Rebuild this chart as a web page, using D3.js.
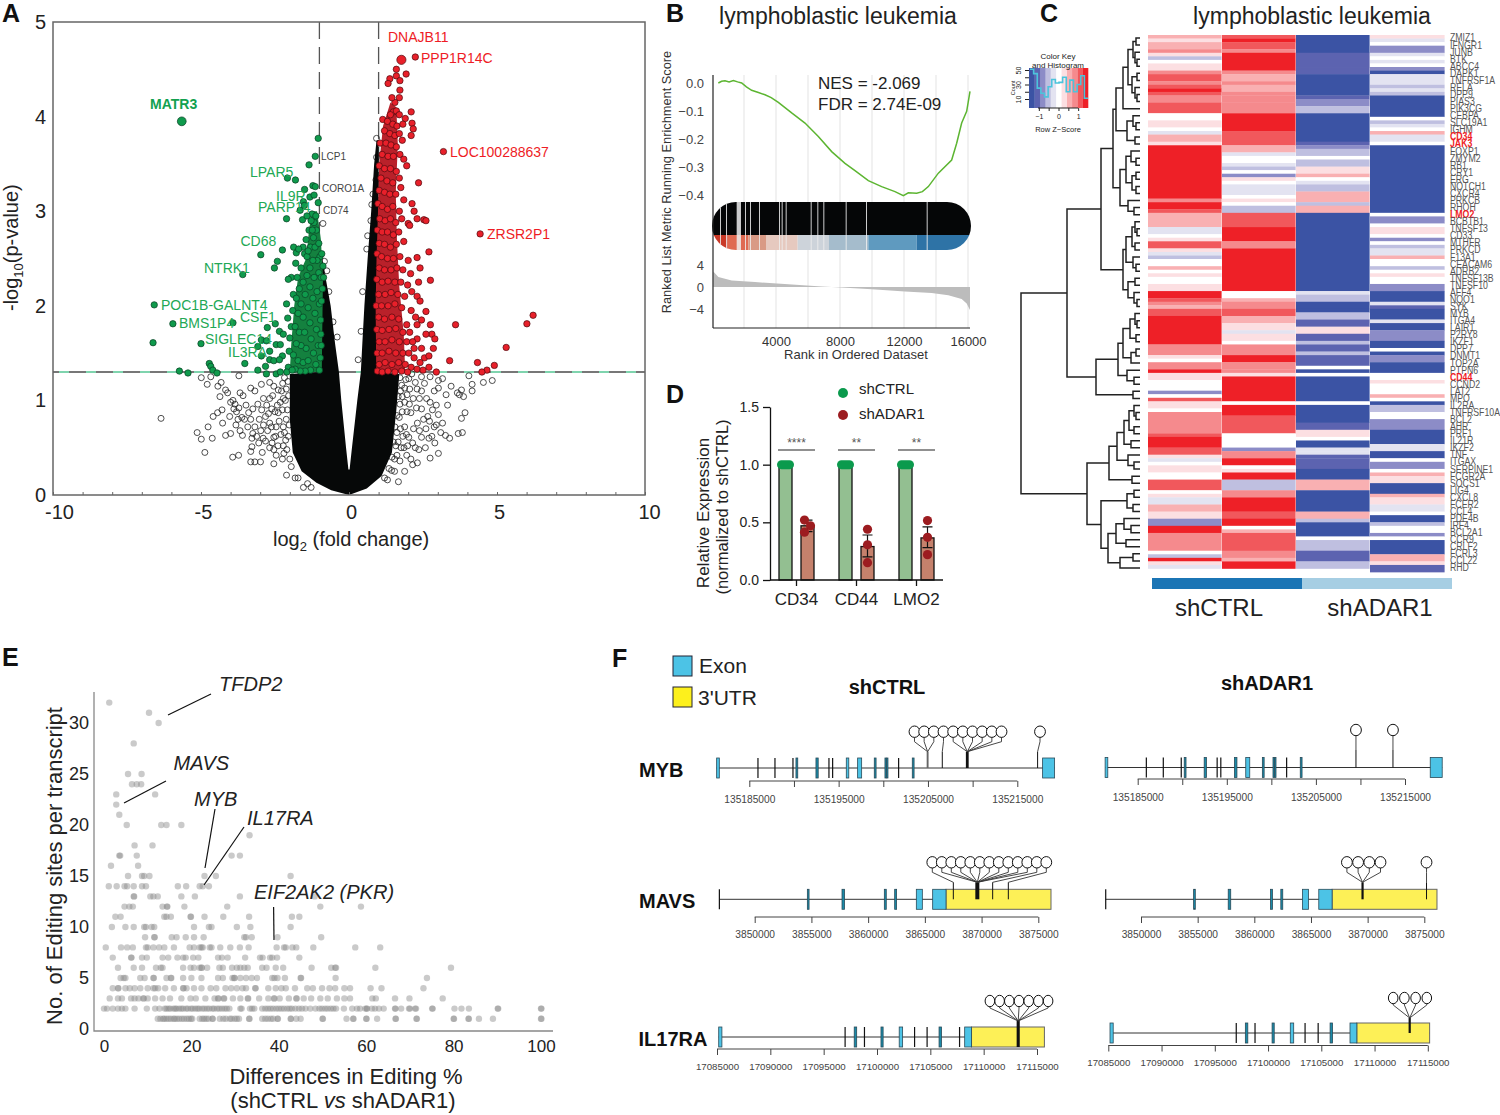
<!DOCTYPE html>
<html><head><meta charset="utf-8">
<script src="https://cdnjs.cloudflare.com/ajax/libs/d3/7.8.5/d3.min.js"></script>
<style>body{margin:0;background:#fff}svg{display:block;font-family:"Liberation Sans",Arial,sans-serif}</style>
</head><body><script>
/* ---------- PANEL A : volcano ---------- */
const volcanoTicksX=[-10,-5,0,5,10], volcanoTicksY=[0,1,2,3,4,5];
const blackCloud=[[0,0],[-.6,.05],[-1.1,.13],[-1.6,.25],[-1.9,.45],[-2,.8],[-2,1.28],[-1,1.3],[-1,2.2],[-.97,2.5],[-1,2.7],[-.85,2.4],[-.62,2],[-.47,1.6],[-.34,1.3],[-.26,1],[-.1,.5],[-.02,.27],[.02,.27],[.1,.5],[.28,1],[.4,1.3],[.45,1.6],[.52,2],[.63,2.5],[.75,3],[.85,3.5],[.93,3.75],[1,3.75],[1,1.3],[1.7,1.28],[1.6,.9],[1.45,.45],[1.1,.2],[.6,.07]];
const greenCloud=[[-2,1.3],[-1.95,1.6],[-1.85,2],[-1.72,2.3],[-1.45,2.5],[-1.35,2.8],[-1.25,3],[-1.08,3],[-.95,2.7],[-.88,2.3],[-.92,1.3]];
const redCloud=[[.92,1.3],[.9,2],[.93,2.5],[.98,3],[1.02,3.5],[1.15,3.9],[1.4,4.15],[1.6,4.1],[1.65,3.7],[1.58,3.2],[1.62,2.7],[1.7,2.2],[1.85,1.7],[1.9,1.3]];
const openPts=[[-6.35,.81],[-5.13,.66],[-4.99,.59],[-4.87,.45],[-4.76,.72],[-4.62,.6],[-4.59,.83],[-4.44,.87],[-4.29,.9],[-4.27,.76],[-4.17,.63],[-4,.65],[-3.93,.4],[-3.73,.42],[-4.03,.83],[-3.89,.91],[-4.99,1.24],[-4.79,1.17],[-4.67,1.25],[-4.43,1.15],[-4.32,1.19],[-4.17,1.11],[-4.36,1.04],[-4.1,1.08],[-3.72,1.26],[-4,.98],[-3.85,.96],[-3.68,1.08],[-3.58,1.05],[-3.32,1.13],[-3.18,1.1],[-2.96,1.17],[-2.68,1.19],[-2.89,1.02],[-2.54,1.15],[-2.39,1.11],[-3.32,.35],[-3.18,.35],[-2.99,.35],[-2.54,.33],[-3.32,.46],[-2.93,.45],[-3.28,.51],[-3.53,.8],[-3.39,.87],[-3.25,.91],[-3.08,.96],[-3.03,.8],[-2.89,.74],[-3.18,.72],[-3.25,.65],[-3.68,.68],[-3.6,.63],[-3.82,.74],[-3.75,.8],[-2.68,1.02],[-2.61,.91],[-2.82,.57],[-2.68,.5],[-2.54,.48],[-2.46,.72],[-2.39,.87],[-2.32,.98],[-2.82,.83],[-2.68,.76],[-2.54,.61],[-2.46,.42],[-2.11,.21],[-1.82,.18],[-1.54,.08],
[-3.92,1],[-3.8,.88],[-3.72,.92],[-3.62,.82],[-3.48,.95],[-3.42,.72],[-3.32,.8],[-3.28,.6],[-3.12,.62],[-3.05,.55],[-2.98,.68],[-2.95,.9],[-2.9,.6],[-2.78,.95],[-2.75,.68],[-2.72,.86],[-2.62,.72],[-2.6,.55],[-2.58,1.05],[-2.5,.88],[-2.48,.62],[-2.42,.95],[-2.4,.52],[-2.36,.78],[-2.3,.64],[-2.28,1.1],[-2.25,.9],[-2.25,.38],[-2.22,.72],[-2.22,.52],
[-2.18,1.24],[-2.12,1.12],[-2.15,1],[-2.08,.9],[-2.12,.8],[-2.18,.66],[-2.05,.62],[-2.1,.48],[-2,.38],[-1.95,.3],[-2.06,1.2],[-2.04,1.05],[-2.2,.44],[-2.02,.74],[-1.72,.18],[-1.4,.12],[-1.28,.08],[-2.14,.58],[-2.22,1.02],[-2.24,1.18],
[-.88,2.87],[-.83,2.47],[-.75,2.37],[-.68,2.15],[-.54,1.83],[-.4,1.67],[.93,3.77],[.93,3.57],[.91,3.33],[.81,3.18],[.77,3.07],[.74,2.9],[.63,2.74],[.6,2.6],[.46,2.15],[.41,1.73],[.31,1.43],
[2.45,1.25],[2.74,1.25],[3.02,1.21],[3.16,1.23],[4.05,1.26],[4.16,1.17],[4.54,1.19],[4.84,1.21],[3.02,1.13],[3.28,1.06],[3.45,1.15],[3.66,1.08],[3.8,1.11],[3.73,1.06],[3.87,1.04],[4.16,1.1],[3.33,.95],[3.02,.85],[3.16,.76],[2.95,.74],[3.92,.87],[3.8,.81],[3.69,.65],[3.83,.66],[3.26,.63],[3.4,.6],[3.02,.44],[2.74,.39],[2.31,.34],[1.67,.14],[1.88,.25],[2.09,.38],[2.45,1.1],[2.74,.98],[2.88,1.1],[2.24,1.19],[2.02,1.23],[1.88,1.13],[2.17,1.02],[2.45,.91],[2.66,.83],[2.88,.72],[2.31,.76],[2.09,.87],[2.45,.61],[2.24,.5],[2.02,.61],[1.88,.72],[1.88,.98],[1.74,1.1],
[2.12,1.28],[2.3,1.12],[2.55,1.18],[2.62,1.02],[2.38,1.02],[2.28,.92],[2.52,.8],[2.18,.7],[2.38,.68],[2.6,.7],[2.7,.6],[2.58,.5],[2.36,.48],[2.15,.55],[2.95,.95],[2.82,.9],[2.72,.78],[2.15,.32],[1.95,.42],[1.98,.52],[2.8,.62],[2.9,.55],[3.1,.66],
[1.72,1.24],[1.78,1.16],[1.92,1.22],[1.66,1.04],[1.72,.96],[1.8,1.04],[1.96,1.06],[2.05,1.12],[1.62,.84],[1.7,.82],[1.8,.88],[1.96,.88],[2.04,.96],[1.55,.72],[1.62,.66],[1.74,.7],[1.82,.62],[1.94,.64],[1.5,.56],[1.58,.52],[1.66,.56],[1.76,.5],[1.86,.5],[1.45,.4],[1.54,.38],[1.62,.42],[1.72,.36],[1.35,.28],[1.44,.26],[1.54,.25],[1.2,.18],[1.3,.16]];
const matr3=[[-5.65,3.95]];
const greenPts=[[-6.58,2.01],[-5.95,1.81],[-6.62,1.61],[-5,1.6],[-5.73,1.31],[-5.44,1.29],[-4.72,1.39],[-4.67,1.36],[-4.6,1.32],[-4.46,1.29],[-3.92,1.82],[-3.52,1.39],[-3.59,2.33],[-2.98,2.54],[-2.52,2.4],[-2.42,2.47],[-2.25,2.59],[-1.87,2.62],[-1.78,2.56],[-2.11,2.92],[-2.08,3.35],[-1.81,3.33],[-1.35,3.49],[-1.14,3.58],[-1.04,3.77],[-1.22,3.27],[-1.14,3.26],[-1.5,3.23],[-1.32,3.15],[-1.18,3.17],[-1.54,3.1],[-1.65,3.01],[-1.51,3.06],[-1.04,3.09],[-1.57,2.91],[-1.25,2.97],[-1.18,2.88],[-2.96,1.64],[-2.79,1.63],[-3.08,1.57],[-2.68,1.52],[-2.96,1.47],[-3.08,1.32],[-2.82,1.36],[-2.79,1.28],[-2.46,1.28],[-2.32,1.3],[-2.68,1.43],[-2.54,1.42],[-2.76,1.77],[-2.49,1.81],[-2.35,1.73],[-2.22,1.7],[-2.46,1.59],[-2.32,1.59],[-2.25,1.47],[-2.35,1.43],[-2.07,1.87],[-2.11,2.02],
[-2.05,1.35],[-2.02,1.52],[-2.1,1.3],[-2,1.66],[-1.95,1.78],[-1.9,1.95],[-1.88,2.12],[-1.95,2.3],[-2.05,2.28],[-1.75,2.3],[-1.8,2.45],[-1.62,2.4],[-1.5,2.55],[-1.45,2.7],[-1.55,2.62],[-1.35,2.8],[-1.42,2.52],[-1.3,2.62],[-1.2,2.72],[-1.1,2.8],[-1.28,2.9],[-1.15,2.62],[-1.02,2.66],[-.98,2.52],[-1.08,2.48],[-1.22,2.48],[-1.32,2.4],[-1.42,2.32],[-1.55,2.25],[-1.68,2.18],[-1.78,2.08],[-1.62,2.02],[-1.48,2.12],[-1.32,2.2],[-1.18,2.3],[-1.02,2.35],[-.94,2.3],[-1.08,2.15],[-1.22,2.08],[-1.38,1.98],[-1.55,1.88],[-1.72,1.92],[-1.82,1.78],[-1.68,1.72],[-1.5,1.72],[-1.32,1.82],[-1.15,1.92],[-1,2.02],[-.96,1.85],[-1.1,1.75],[-1.28,1.65],[-1.45,1.55],[-1.62,1.58],[-1.78,1.6],[-1.88,1.48],[-1.72,1.42],[-1.55,1.4],[-1.38,1.42],[-1.2,1.5],[-1.04,1.58],[-.97,1.45],[-1.12,1.38],[-1.3,1.32],[-1.48,1.31],[-1.65,1.31],[-1.82,1.33],[-1,1.32],[-1.92,1.32],[-1.7,2.6],[-1.38,2.58],[-1.24,2.8],[-1.12,2.95],[-1.42,2.95],[-.88,2.42],[-.86,2.3],[-.9,2.18],[-.92,2.55],[-.93,2.05],[-.95,1.7],[-.94,1.58]];
const redBig=[[1.77,4.6]];
const redPts=[[2.24,4.63],[3.19,3.63],[4.43,2.76],[6.22,1.9],[6.01,1.81],[5.31,1.56],[3.6,1.8],[4.91,1.37],[4.34,1.4],[4.66,1.32],[4.49,1.3],[3.4,1.42],[1.6,4.5],[1.6,4.43],[1.93,4.45],[1.38,4.4],[1.72,4.38],[1.32,4.35],[1.72,4.28],[1.7,4.2],[1.55,4.15],[1.45,4.2],[1.5,4.05],[1.4,4.02],[1.6,4.06],[1.7,4.02],[1.9,3.98],[2.1,4.05],[2.13,3.93],[2.17,3.87],[2.1,3.8],[1.8,3.75],[1.14,3.97],[1.3,3.95],[1.48,3.92],[1.62,3.9],[1.82,3.92],[1.2,3.85],[1.38,3.82],[1.55,3.8],[1.7,3.82],[1.05,3.72],[1.25,3.72],[1.42,3.7],[1.6,3.68],[1.12,3.6],[1.32,3.58],[1.5,3.58],[1.72,3.6],[1.85,3.55],[1.02,3.48],[1.2,3.45],[1.4,3.45],[1.6,3.42],[1.95,3.48],[1.08,3.35],[1.28,3.32],[1.48,3.3],[1.7,3.35],[2.35,3.3],[1.75,3.25],[1.02,3.22],[1.2,3.2],[1.38,3.18],[1.58,3.18],[1.85,3.12],[2.13,3.08],[2.2,3],[2.3,2.92],[2.53,2.91],[2.6,2.9],[2,2.87],[2.05,2.85],[.98,3.08],[1.12,3.05],[1.3,3.02],[1.48,3.05],[1.7,3],[1.04,2.92],[1.22,2.9],[1.4,2.92],[1.58,2.88],[1.78,2.92],[.96,2.8],[1.12,2.78],[1.3,2.78],[1.5,2.75],[1.68,2.78],[1.02,2.66],[1.2,2.65],[1.4,2.62],[1.6,2.65],[1.85,2.68],[2.7,2.57],[2.3,2.51],[2.4,2.4],[2.75,2.27],[2.35,2.25],[2,2.48],[1.72,2.52],[.95,2.55],[1.1,2.52],[1.3,2.5],[1.5,2.5],[1.02,2.4],[1.2,2.38],[1.42,2.38],[1.62,2.4],[1.82,2.38],[2.08,2.34],[.94,2.28],[1.12,2.25],[1.32,2.26],[1.55,2.25],[1.75,2.25],[1.98,2.22],[1,2.12],[1.22,2.12],[1.42,2.14],[1.65,2.12],[1.88,2.1],[2.12,2.15],[2.3,2.1],[2.4,2.05],[.92,2],[1.1,2],[1.32,2],[1.55,2.02],[1.78,1.98],[2.1,1.95],[2.6,1.94],[1,1.88],[1.2,1.86],[1.45,1.88],[1.68,1.86],[1.95,1.8],[2.25,1.88],[2.45,1.85],[2.3,1.8],[.94,1.75],[1.12,1.74],[1.35,1.75],[1.58,1.76],[1.82,1.72],[2.05,1.72],[2.75,1.8],[2.8,1.7],[2.6,1.7],[2.9,1.65],[2.3,1.65],[1.02,1.62],[1.22,1.62],[1.45,1.64],[1.7,1.62],[1.95,1.62],[2.15,1.62],[.95,1.5],[1.12,1.5],[1.35,1.52],[1.58,1.5],[1.82,1.5],[2.02,1.5],[2.2,1.55],[2.45,1.55],[2.85,1.55],[2.55,1.45],[2.7,1.47],[2.2,1.45],[2.4,1.4],[1.02,1.38],[1.22,1.4],[1.45,1.38],[1.68,1.4],[1.9,1.38],[2.1,1.35],[2.3,1.33],[2.5,1.32],[2.7,1.35],[2.95,1.3],[.96,1.31],[1.12,1.3],[1.32,1.31],[1.55,1.3],[1.78,1.31],[1.98,1.3]];
const aLabels=[["MATR3",150,108.5,"#12a150",1],["DNAJB11",388,42,"#ee1c25"],["PPP1R14C",421,63,"#ee1c25"],["LOC100288637",450,156.5,"#ee1c25"],["ZRSR2P1",487,239,"#ee1c25"],["LPAR5",250,177,"#22a855"],["IL9R",276,201,"#22a855"],["PARP14",258,212,"#22a855"],["CD68",240.5,246,"#22a855"],["NTRK1",204,273,"#22a855"],["POC1B-GALNT4",161,310,"#22a855"],["BMS1P4",179,328,"#22a855"],["CSF1",240,322,"#22a855"],["SIGLEC14",205,343.5,"#22a855"],["IL3RA",228,357,"#22a855"]];
const aSmallLabels=[["LCP1",321,160],["CORO1A",322,192],["CD74",323,214]];

/* ---------- PANEL B : GSEA ---------- */
const esRank=[396,600,812,1070,1333,1600,1854,2150,2479,2900,3312,3700,4146,4979,5812,6646,7479,8312,8937,9771,10604,11437,11958,12271,12792,13150,13521,14146,14979,15292,15604,15917,16125];
const esValue=[0,.006,.008,.004,.009,.004,0,-.014,-.026,-.034,-.042,-.052,-.069,-.107,-.143,-.191,-.245,-.287,-.313,-.349,-.37,-.388,-.402,-.392,-.394,-.388,-.37,-.322,-.275,-.215,-.143,-.101,-.03];
const metricRank=[83,396,1229,2687,4771,6854,8104,9979,12062,13729,14771,15604,15917,16125];
const metricValue=[2.8,1.8,1.2,.9,.5,.1,-.1,-.4,-.8,-1.1,-1.5,-2.2,-3,-4.2];
const hitGaps=[[500,1],[875,2],[1541,271],[2062,1],[2375,1],[2937,1],[4187,1],[4354,1],[4604,2],[6167,1],[6583,1],[6958,2],[8354,1],[9625,2],[13417,2]];
const stripEnds=[979,2271,3375,5354,7312,9771,12792,16200];
const stripColours=["#c93a28","#df6a52","#d99a85","#e6c9bf","#cdd3da","#a5bccc","#5f9abf","#2e73a6"];
const esTicks=[0,-.1,-.2,-.3,-.4], metricTicks=[4,0,-4], rankTicks=[4000,8000,12000,16000];
const rankGrid=[2000,4000,6000,8000,10000,12000,14000,16000];

/* ---------- PANEL C : heatmap (runs of [rows, level]) ---------- */
const heatLeft=[[1,2],[1,1],[2,2],[1,3],[1,1],[1,-2],[1,0],[2,1],[1,3],[2,4],[1,3],[1,4],[1,5],[1,4],[2,3],[3,4],[2,0],[2,1],[1,0],[1,-1],[2,2],[1,1],[15,5],[1,3],[2,5],[1,4],[4,2],[2,-1],[1,0],[1,1],[2,4],[1,1],[1,-1],[1,-2],[2,0],[1,2],[1,0],[1,1],[2,0],[2,1],[2,5],[1,4],[1,3],[1,2],[2,4],[8,5],[3,3],[1,1],[1,0],[2,3],[1,5],[2,1],[3,0],[1,-3],[1,0],[1,4],[2,1],[1,0],[6,3],[1,4],[3,5],[2,4],[1,1],[1,-1],[1,0],[2,1],[2,0],[3,4],[1,0],[1,1],[2,-1],[2,2],[2,1],[2,-3],[2,5],[5,3],[1,0],[1,-2],[1,5],[1,1],[1,-1]];
const heatMidL=[[1,4],[1,5],[2,4],[1,3],[5,5],[1,3],[2,2],[1,3],[2,2],[1,3],[2,3],[3,3],[5,5],[4,4],[2,2],[1,-1],[2,0],[1,-1],[1,-2],[1,0],[1,-3],[1,1],[1,0],[3,-1],[1,0],[1,1],[1,0],[2,-2],[4,4],[4,5],[2,3],[12,5],[2,0],[1,2],[2,3],[2,4],[2,2],[2,1],[1,-1],[2,1],[1,0],[3,3],[2,5],[2,3],[1,3],[1,1],[7,5],[1,0],[3,5],[5,4],[4,0],[1,-3],[2,3],[2,5],[1,0],[1,1],[2,5],[3,-2],[2,3],[4,5],[2,4],[2,5],[1,0],[1,2],[5,4],[2,3],[1,2],[2,5]];
const heatMidR=[[5,-5],[4,-4],[2,-4],[6,-5],[1,-4],[2,-3],[2,-2],[8,-5],[1,-4],[1,-3],[2,-2],[1,0],[2,-2],[2,1],[1,2],[1,0],[1,-1],[2,-2],[3,2],[1,-2],[2,2],[22,-5],[1,-1],[2,-2],[2,-5],[1,-5],[2,-2],[2,-4],[2,1],[2,-4],[1,-2],[2,-4],[1,-2],[3,-4],[1,0],[1,-5],[1,0],[7,-5],[1,0],[5,-5],[2,-4],[2,1],[1,0],[2,-5],[1,-1],[1,-1],[1,-4],[3,-4],[3,-5],[3,2],[6,-5],[2,2],[1,-2],[4,-5],[1,0],[3,-2],[3,-4],[2,-2]];
const heatRight=[[1,1],[1,-1],[1,0],[2,-3],[1,-1],[1,0],[1,-1],[1,0],[1,-3],[1,-5],[3,-1],[1,-2],[1,-1],[1,-2],[6,-5],[1,0],[1,-2],[1,-1],[1,0],[1,2],[2,-1],[1,0],[19,-5],[1,0],[1,-3],[1,-3],[1,0],[2,1],[1,0],[1,-3],[1,0],[1,-2],[1,-1],[1,-1],[1,2],[2,0],[1,-2],[1,0],[1,1],[2,0],[2,-3],[3,-5],[1,-1],[1,-4],[3,-5],[1,-1],[2,-5],[3,-3],[2,-5],[1,0],[1,-5],[2,-3],[3,-5],[2,0],[1,1],[3,0],[1,2],[1,0],[1,-5],[2,-2],[2,0],[3,-3],[4,-5],[2,-1],[2,-5],[1,0],[2,-3],[1,0],[1,2],[2,1],[3,-5],[1,2],[2,1],[2,-1],[1,0],[2,-5],[1,-2],[2,0],[1,-3],[1,0],[4,-5],[2,2],[1,1],[2,-4]];
const heatLevels=[5,4,3,2,1,0,-1,-2,-3,-4,-5];
const heatPalette=["#ee2027","#f1585c","#f58a8d","#f9b0b2","#fcdfe2","#ffffff","#e3e3f1","#bfbfe0","#8c8cc7","#5c63b0","#3b53a4"];
const geneRows=["ZMIZ1","IFNGR1","JUNB","BTK","ABCC4","DAPK1","TNFRSF1A","RELA","DPP9","PIAS3","PIK3CG","CEBPA","SLC19A1","IGHM","CD34","JAK3","FOXP1","ZMYM2","RB1","CRY1","ERG","NOTCH1","CXCR4","PRKCB","RHOH","LMO2","BCBTB1","TNFSF13","CD33","MTHFR","PRKCD","F13A1","CEACAM6","ADRB2","TNFSF13B","TNFSF10","AFF4","NQO1","SYK","MYB","ITGA4","LAIR1","P2RY8","IKZF1","DPP7","DNMT1","TOP2A","PTPN6","CD44","CCND2","LAT2","MPO","IL2RA","TNFRSF10A","BCL2","AHR","PRF1","IL21R","IKZF2","TNF","ITGAX","SERPINE1","FCGR2A","SOCS1","LIG4","CXCL8","FCER2","CCL4","PDE4B","IRF4","BCL2A1","CCR9","CRLF2","FCRL3","CCL22","RHD"];
const redGenes=["CD34","JAK3","LMO2","CD44"];
const keyCounts=[51,45,25,18,13,27,37,32,33,40,20,36,20,30,42,11];
/* dendrogram: [height, child, child]; 0 = leaf */
const dA=[24,[17,[12,[7,[4,0,0],[5,0,[3,0,0]]],[8,[3,0,0],[5,0,[3,0,0]]]],0],[13,[7,0,[4,0,0]],[5,0,0]]];
const dB=[20,[14,[9,0,[4,0,0]],[8,[4,0,0],[4,0,0]]],[12,0,[6,0,0]]];
const dC=[17,[14,[8,[5,0,[3,0,0]],[5,0,0]],[7,0,[4,0,0]]],[12,[5,0,0],[6,0,[3,0,0]]]];
const dD=[44,[22,[17,[10,[5,0,[3,0,0]],[4,0,0]],[9,[4,0,0],0]],[13,0,[6,0,0]]],[7,0,0]];
const dE1=[31,[23,[16,[11,[6,0,[4,0,0]],[6,0,0]],[9,0,0]],[12,0,[6,0,0]]],[8,0,0]];
const dE2=[39,[13,[6,0,0],[7,0,0]],[32,[24,[16,0,[9,0,0]],[14,0,0]],[20,[7,0,0],0]]];
const dendro=[119,[73,[39,[27,dA,dB],dC],dD],[53,dE1,dE2]];

/* ---------- PANEL D : bars ---------- */
const qpcrGenes=["CD34","CD44","LMO2"];
const ctrlMeans=[1,1,1];
const adarMeans=[.47,.29,.365];
const adarErrLow=[.42,.2,.28], adarErrHigh=[.52,.39,.46];
const adarReps=[[.52,.47,.415],[.44,.305,.15],[.515,.37,.22]];
const sigStars=["****","**","**"];

/* ---------- PANEL E : editing scatter ([sites,[diff %...]]) ---------- */
const editingRows=[[32,[1.2]],[31,[10.3]],[30,[12.5]],[28,[6.8]],[25,[5.5,8.6]],[24,[6.4,7.5,8.5]],[23,[2.8,11.7]],[22,[2.8]],[21,[3.5]],[20,[5.2,13.1,14.3,17.7]],[19,[33.3]],[18,[7,11.1]],[17,[3.5,3.7,7.5,29.2,31.1]],[16,[1.6,7.8]],[15,[5.5,8.7,9.2,10.4,23,25.6,42.7]],[14,[1.1,2.9,4.7,5.3,6.8,8.7,9.6,16.9,18.8,21.9,22.6,24]],[13,[6.8,6.9,10.6,11.3,12.3,17.7,20.8,31.1,48.2]],[12,[4.7,5.8,6.6,13.4,14.4,14.5,18.4,28.2,49.5,58.8]],[11,[2.6,3.8,13.8,14.3,15.3,19.8,19.9,23,27.3,33.2,43,44.7]],[10,[1.8,4.9,6.8,9.2,9.6,10.9,11.5,20.6,24,24.6,30.4,33.5,42.7]],[9,[9.4,11.5,11.6,15.5,16.6,18.7,20.6,22.8,32.1,32.5,33.8,39.7,49.7]],[8,[.4,3.9,5.3,6.6,9.6,10,11.3,12.6,13.8,16,19.6,20.6,21.9,22.3,22.6,24.2,24.6,26.6,28.9,31.1,33.1,39.5,41.2,41.6,43.1,44,47.9,57.5,63.2]],[7,[2,6.2,6.3,8.7,9.8,13.4,14.7,16.8,18.1,18.7,20.4,21.6,26.1,27,28.3,32.3,35.7,36.3,38,38.5,39.6,44.7]],[6,[3.2,6.8,8.7,11.9,13,13.4,18.1,19.8,20.6,21.9,22.3,22.4,23.6,26.4,27.2,29.3,30.4,31.2,32.1,32.9,36.2,37.2,39.3,41,47.5,52,52.9,53.1,62.1,79.4]],[5,[3.8,4.5,4.9,8.3,9.3,11.3,11.4,14.3,15.3,15.4,18.1,20,22.3,26.1,27.2,29.4,29.8,29.9,31.2,32.5,33.8,35,38.5,39,39.7,41.4,45,45.1,53,73.9]],[4,[2,3.2,3.3,4.9,5.9,7,8.3,10,11.3,11.7,12.4,14,16,18.1,18.2,18.9,20.6,22.3,24.4,25.7,27.8,29.1,30.4,31.7,32.5,34.6,34.7,37.6,39.3,40.6,41.6,43.7,46.5,47.8,49.9,51.6,52.9,55,56.3,61,63.5,73.1]],[3,[1.3,3.2,4.1,6.2,7,7.9,9,9.1,10,11.7,13.4,15.1,17.7,19.8,21,23.2,25.3,26.1,26.2,27.4,27.5,29.5,31.2,32.9,33,35.5,37.6,38.9,39,40.2,42.3,44,44.1,45.7,47.4,49.5,51.2,53.3,55,56.3,61.4,62.2,66.6,69.9,77.5]],[2,[0,.7,2,3.2,4.1,4.9,7,9.8,11.7,12.7,13.9,14.3,14.8,15.2,15.9,16.3,16.6,17.2,17.7,18.1,18.8,19.2,19.9,20.3,20.9,21.4,21.8,22.5,23,23.6,24.1,24.8,25.2,25.9,26.4,27,27.6,28.1,28.7,31.2,31.5,33.4,33.9,34.4,36.2,36.9,37.5,38.1,38.7,39.4,40,40.6,41.2,41.9,42.5,43,43.8,44.6,45.3,46.1,47.2,48.4,49.3,49.9,50.6,51.2,51.9,52.5,53.1,54.9,56.8,57.9,58.6,59.8,60.1,60.2,61.3,62,62.9,64,66.6,66.7,68,69.8,70,71.2,71.4,75.1,75.2,80.2,81.8,83.5,90.1,90.2,100,100.1]],[1,[12.3,12.9,13.5,13.8,14.3,14.8,15.3,15.9,16.2,16.7,17.2,17.8,18.3,18.9,19.4,19.9,20.2,21.9,22.5,22.9,23.4,23.9,24.8,24.9,26.5,27.3,27.9,28.8,29.2,29.9,30.4,30.9,33.2,33.3,36.2,36.9,37.5,38.2,38.7,39.7,39.8,42.7,42.8,44,45,50,50.1,55.5,57,57.1,60,60.1,62.5,66.7,66.8,71.5,71.6,80,80.1,83.4,83.5,85.8,89,100,100.1]]];
const editX=[0,20,40,60,80,100], editY=[0,5,10,15,20,25,30];

/* ---------- PANEL F : gene tracks ---------- */
const mybExons=[[135181344,300],[135185970,0],[135187873,0],[135189888,0],[135190223,200],[135192462,250],[135193917,0],[135194328,0],[135195857,280],[135197126,450],[135198991,200],[135200185,150],[135200372,150],[135201715,0],[135203245,200],[135217833,1343]];
const mavsExons=[[3846886,0],[3854642,150],[3857697,220],[3861428,170],[3862339,170],[3864248,530],[3865688,1176]];
const il17Exons=[[17085160,300],[17097010,0],[17097865,230],[17098825,0],[17100373,200],[17102082,320],[17103523,0],[17104697,0],[17105818,230],[17107740,0],[17108220,641]];
const il17AdarExons=[[17085160,300],[17097015,0],[17097869,230],[17098777,0],[17100379,200],[17102088,320],[17103476,0],[17104705,0],[17105826,230],[17107695,641]];
const mavsUtr=[3866864,3876119], il17Utr=[17108861,17115694], il17AdarUtr=[17108336,17115171];
const mybTicks=[135185000,135190000,135195000,135200000,135205000,135210000,135215000];
const mavsTicks=[3850000,3855000,3860000,3865000,3870000,3875000];
const il17Ticks=[17085000,17090000,17095000,17100000,17105000,17110000,17115000];
const mybCtrlSites=[135204961,135204961,135204961,135206603,135209400,135209400,135209400,135209400,135209400,135209400];
const mybCtrlLone=[135217273];
const mybAdarLone=[135209497,135213648];
const mavsCtrlSites=[3867510,3869625,3869625,3869625,3869625,3869625,3869625,3869625,3869625,3869625,3869625,3870977,3872358];
const mavsAdarSites=[3869551,3869551,3869551,3869551];
const mavsAdarLone=[3875196];
const il17CtrlSites=[17113238,17113238,17113238,17113238,17113238,17113238,17113238];
const il17AdarSites=[17113300,17113300,17113300,17113300];

/* ================= drawing ================= */
const svg=d3.select("body").append("svg").attr("width",1500).attr("height",1115);
const F='"Liberation Sans",Arial,sans-serif';
function T(x,y,s,o={}){const t=svg.append("text").attr("x",x).attr("y",y).text(s)
 .attr("font-size",o.size||14).attr("fill",o.fill||"#222").attr("text-anchor",o.anchor||"start");
 if(o.bold)t.attr("font-weight","bold"); if(o.italic)t.attr("font-style","italic");
 if(o.rot)t.attr("transform",`rotate(${o.rot} ${x} ${y})`); if(o.sx)t.attr("transform",`translate(${x} ${y}) scale(${o.sx},1) translate(${-x} ${-y})`);
 return t;}
function styleAxis(g,size,col,line){g.selectAll("text").attr("font-size",size).attr("font-family",F).attr("fill",col);
 g.selectAll("line,path").attr("stroke",line||col);}
[["A",2,22],["B",666,22],["C",1040,22],["D",666,403],["E",2,666],["F",612,667]].forEach(d=>T(d[1],d[2],d[0],{size:25,bold:1,fill:"#111"}));

/* ---- A ---- */
const xA=d3.scaleLinear([-10,10],[53,645]), yA=d3.scaleLinear([0,5],[495,22]);
const lineA=d3.line().x(d=>xA(d[0])).y(d=>yA(d[1]));
[-1,1].forEach(v=>svg.append("line").attr("x1",xA(v)).attr("x2",xA(v)).attr("y1",yA(5)).attr("y2",yA(1.3)).attr("stroke","#555").attr("stroke-width",1.3).attr("stroke-dasharray","17 8"));
svg.append("line").attr("x1",xA(-10)).attr("x2",xA(10)).attr("y1",yA(1.3)).attr("y2",yA(1.3)).attr("stroke","#777").attr("stroke-width",1.8);
svg.append("line").attr("x1",xA(-10)).attr("x2",xA(10)).attr("y1",yA(1.3)).attr("y2",yA(1.3)).attr("stroke","#7fd4ae").attr("stroke-width",1.8).attr("stroke-dasharray","10 17").attr("stroke-dashoffset",-6);
svg.append("g").selectAll("circle").data(openPts).join("circle").attr("cx",d=>xA(d[0])).attr("cy",d=>yA(d[1])).attr("r",3).attr("fill","none").attr("stroke","#222").attr("stroke-width",.8);
svg.append("path").attr("d",lineA(blackCloud)+"Z").attr("fill","#060808");
svg.append("path").attr("d",lineA(greenCloud)+"Z").attr("fill","#14813f");
svg.append("g").selectAll("circle").data(greenPts).join("circle").attr("cx",d=>xA(d[0])).attr("cy",d=>yA(d[1])).attr("r",3.2).attr("fill","#0f9a4c").attr("stroke","#0a3f24").attr("stroke-width",.7);
svg.append("g").selectAll("circle").data(matr3).join("circle").attr("cx",d=>xA(d[0])).attr("cy",d=>yA(d[1])).attr("r",4.4).attr("fill","#0f9a4c").attr("stroke","#0a3f24").attr("stroke-width",.7);
svg.append("path").attr("d",lineA(redCloud)+"Z").attr("fill","#b9212a");
svg.append("g").selectAll("circle").data(redPts).join("circle").attr("cx",d=>xA(d[0])).attr("cy",d=>yA(d[1])).attr("r",3.2).attr("fill","#e8202a").attr("stroke","#4c0a0e").attr("stroke-width",.7);
svg.append("g").selectAll("circle").data(redBig).join("circle").attr("cx",d=>xA(d[0])).attr("cy",d=>yA(d[1])).attr("r",4.6).attr("fill","#e8202a").attr("stroke","#4c0a0e").attr("stroke-width",.7);
svg.append("rect").attr("x",53).attr("y",22).attr("width",592).attr("height",473).attr("fill","none").attr("stroke","#666").attr("stroke-width",1.5);
const axAb=svg.append("g").attr("transform","translate(0,495)").call(d3.axisBottom(xA).tickValues(volcanoTicksX).tickSize(0).tickPadding(10).tickFormat(d3.format("d")));
axAb.select(".domain").remove(); styleAxis(axAb,20,"#222"); axAb.selectAll("text").attr("dx",d=>d==-10?6:(d==10?4:2)).text(d=>d);
svg.append("g").attr("transform","translate(0,495)").call(d3.axisBottom(xA).tickValues(d3.range(-10,11)).tickSize(-3).tickFormat("")).call(g=>{g.select(".domain").remove();g.selectAll("line").attr("stroke","#666");});
const axAl=svg.append("g").attr("transform","translate(53,0)").call(d3.axisLeft(yA).tickValues(volcanoTicksY).tickSize(0).tickPadding(7).tickFormat(d3.format("d")));
axAl.select(".domain").remove(); styleAxis(axAl,20,"#222");
aLabels.forEach(d=>T(d[1],d[2],d[0],{size:14,fill:d[3],bold:d[4]}));
aSmallLabels.forEach(d=>T(d[1],d[2],d[0],{size:10,fill:"#444"}));
{const t=T(273,546,"log",{size:20});t.append("tspan").attr("dy",5).attr("font-size",13).text("2");t.append("tspan").attr("dy",-5).text(" (fold change)");
 const u=T(18,311,"-log",{size:20,rot:-90});u.append("tspan").attr("dy",5).attr("font-size",13).text("10");u.append("tspan").attr("dy",-5).text("(p-value)");}

/* ---- B ---- */
const xB=d3.scaleLinear([0,16000],[712,968]), yES=d3.scaleLinear([0,-.4],[83,195]), yM=d3.scaleLinear([4,-4],[265,309]);
T(838,24,"lymphoblastic leukemia",{size:23,anchor:"middle",fill:"#222"});
svg.append("g").selectAll("line").data(rankGrid).join("line").attr("x1",d=>xB(d)).attr("x2",d=>xB(d)).attr("y1",75).attr("y2",328).attr("stroke","#ececec").attr("stroke-width",1.5);
svg.append("path").attr("fill","none").attr("stroke","#5cb531").attr("stroke-width",1.5)
 .attr("d",d3.line().x((d,i)=>xB(esRank[i])).y(d=>yES(d))(esValue));
const clip=svg.append("clipPath").attr("id","barclip");clip.append("rect").attr("x",712).attr("y",202).attr("width",259).attr("height",48).attr("rx",24);
const barG=svg.append("g").attr("clip-path","url(#barclip)");
barG.append("rect").attr("x",712).attr("y",202).attr("width",259).attr("height",33).attr("fill","#050607");
barG.selectAll(".s").data(stripEnds).join("rect").attr("class","s").attr("x",(d,i)=>xB(i?stripEnds[i-1]:0)).attr("y",235).attr("width",(d,i)=>xB(d)-xB(i?stripEnds[i-1]:0)).attr("height",15).attr("fill",(d,i)=>stripColours[i]);
barG.selectAll(".g").data(hitGaps).join("rect").attr("class","g").attr("x",d=>xB(d[0])).attr("y",202).attr("width",d=>Math.max(1,xB(d[0]+d[1])-xB(d[0]))).attr("height",48).attr("fill","#eeeeee").attr("opacity",.85);
svg.append("path").attr("fill","#bcbcbc").attr("d",d3.area().x((d,i)=>xB(metricRank[i])).y0(yM(0)).y1(d=>yM(d))(metricValue));
svg.append("line").attr("x1",713).attr("x2",713).attr("y1",75).attr("y2",328).attr("stroke","#222").attr("stroke-width",1.2);
const axBb=svg.append("g").attr("transform","translate(0,328)").call(d3.axisBottom(xB).tickValues(rankTicks).tickSize(0).tickPadding(9).tickFormat(d3.format("d")));
styleAxis(axBb,13,"#333","#222");axBb.select(".domain").attr("d","M713,0H970").attr("stroke-width",1.2);
const axB1=svg.append("g").attr("transform","translate(704,0)").call(d3.axisLeft(yES).tickValues(esTicks).tickSize(0).tickPadding(0).tickFormat(d3.format(".1f")));axB1.select(".domain").remove();styleAxis(axB1,13,"#444");axB1.selectAll("text").text(d=>d==0?"0.0":"\u2212"+Math.abs(d).toFixed(1));
const axB2=svg.append("g").attr("transform","translate(704,0)").call(d3.axisLeft(yM).tickValues(metricTicks).tickSize(0).tickPadding(0));axB2.select(".domain").remove();styleAxis(axB2,13,"#444");
T(856,359,"Rank in Ordered Dataset",{size:13,anchor:"middle",fill:"#333"});
T(671,182,"Ranked List Metric Running Enrichment Score",{size:12.8,anchor:"middle",fill:"#333",rot:-90});
T(818,89,"NES = -2.069",{size:17}); T(818,110,"FDR = 2.74E-09",{size:17});

/* ---- C ---- */
T(1312,24,"lymphoblastic leukemia",{size:23,anchor:"middle",fill:"#222"});
const heatColour=d3.scaleOrdinal(heatLevels,heatPalette);
const heatColumns=[heatLeft,heatMidL,heatMidR,heatRight];
const colX=[1148,1222,1296,1370,1445];
const rowY=d3.scaleLinear([0,150],[35,568.5]);
heatColumns.forEach((runs,c)=>{let r=0;const cells=runs.map(d=>{const o={start:r,n:d[0],level:d[1]};r+=d[0];return o;});
 svg.append("g").selectAll("rect").data(cells).join("rect").attr("x",colX[c]).attr("width",colX[c+1]-colX[c]-.4)
  .attr("y",d=>rowY(d.start)).attr("height",d=>rowY(d.start+d.n)-rowY(d.start)+.3).attr("fill",d=>heatColour(d.level));});
const leafY=d3.scaleLinear([0,75],[38,568]);
geneRows.forEach((g,i)=>{const red=redGenes.includes(g);T(1450,leafY(i)+3.5,g,{size:11,fill:red?"#ee1c25":"#555",sx:.795,bold:red});});
{const xD=d3.scaleLinear([0,120],[1140,1020]);let leaf=0;const segs=[];
 (function walk(n){if(n===0){return {y:leafY(leaf++),d:0};}
  const a=walk(n[1]),b=walk(n[2]),h=n[0];
  segs.push([[xD(a.d),a.y],[xD(h),a.y],[xD(h),b.y],[xD(b.d),b.y]]);
  return {y:(a.y+b.y)/2,d:h};})(dendro);
 svg.append("g").selectAll("path").data(segs).join("path").attr("d",d3.line()).attr("fill","none").attr("stroke","#222").attr("stroke-width",1.5);}
svg.append("rect").attr("x",1152).attr("y",578).attr("width",150).attr("height",11).attr("fill","#1b75b5");
svg.append("rect").attr("x",1302).attr("y",578).attr("width",150).attr("height",11).attr("fill","#a6cee3");
T(1219,616,"shCTRL",{size:24,anchor:"middle"});T(1380,616,"shADAR1",{size:24,anchor:"middle"});
/* colour key */
{const xK=d3.scaleBand(heatLevels.slice().reverse(),[1029,1088]);
 svg.append("g").selectAll("rect").data(heatLevels).join("rect").attr("x",d=>xK(d)).attr("y",68).attr("width",xK.bandwidth()+.3).attr("height",40).attr("fill",d=>heatColour(d));
 const xS=d3.scaleLinear([0,keyCounts.length],[1030,1088]), yC=d3.scaleLinear([10,50],[99,70]);
 svg.append("path").attr("fill","none").attr("stroke","#4cc4dc").attr("stroke-width",1.6)
  .attr("d",d3.line().curve(d3.curveStepAfter).x((d,i)=>xS(i)).y(d=>yC(d))(keyCounts.concat(keyCounts[keyCounts.length-1])));
 const zS=d3.scaleLinear([-1.5,1.5],[1029,1088]);
 const gx=svg.append("g").attr("transform","translate(0,108)").call(d3.axisBottom(zS).tickValues([-1,-.5,0,.5,1]).tickSize(3).tickPadding(3).tickFormat(d=>Number.isInteger(d)?(d<0?"\u2212"+(-d):d):""));styleAxis(gx,7,"#222");gx.select(".domain").attr("d","M1038,0H1078");
 const gy=svg.append("g").attr("transform","translate(1029,0)").call(d3.axisLeft(yC).tickValues([10,20,30,40,50]).tickSize(4).tickPadding(2).tickFormat(d=>d%20==10?d:""));styleAxis(gy,7,"#222");gy.select(".domain").remove();
 gy.selectAll("text").attr("transform","rotate(-90) translate(0,-3)").attr("text-anchor","middle").attr("x",0).attr("dy",0).attr("y",-5);
 T(1058,59,"Color Key",{size:8,anchor:"middle"});T(1058,68,"and Histogram",{size:8,anchor:"middle"});T(1058,132,"Row Z\u2212Score",{size:7.5,anchor:"middle"});T(1015,88,"Count",{size:5.5,anchor:"middle",rot:-90});}

/* ---- D ---- */
const yD=d3.scaleLinear([0,1.5],[580,407]);
const barOff={ctrl:-17,adar:5}, barW=13;
const xCat=d3.scalePoint(qpcrGenes,[796,916]);
qpcrGenes.forEach((g,i)=>{const cx=xCat(g);
 svg.append("rect").attr("x",cx+barOff.ctrl).attr("y",yD(ctrlMeans[i])).attr("width",barW).attr("height",yD(0)-yD(ctrlMeans[i])).attr("fill","#93bf91").attr("stroke","#111").attr("stroke-width",1.3);
 svg.append("rect").attr("x",cx+barOff.adar).attr("y",yD(adarMeans[i])).attr("width",barW).attr("height",yD(0)-yD(adarMeans[i])).attr("fill","#c5816c").attr("stroke","#111").attr("stroke-width",1.3);
 const ex=cx+barOff.adar+barW/2;
 svg.append("path").attr("d",`M${ex},${yD(adarErrLow[i])}V${yD(adarErrHigh[i])}M${ex-5},${yD(adarErrLow[i])}h10M${ex-5},${yD(adarErrHigh[i])}h10`).attr("stroke","#111").attr("stroke-width",1.2).attr("fill","none");
 svg.append("rect").attr("x",cx+barOff.ctrl-2).attr("y",yD(1)-4.5).attr("width",barW+4).attr("height",9).attr("rx",4.5).attr("fill","#0b9a4d");
 adarReps[i].forEach((v,j)=>svg.append("circle").attr("cx",ex+(i==0?(j==1?3:-3):0)).attr("cy",yD(v)).attr("r",4.6).attr("fill","#9c1c20"));
 svg.append("line").attr("x1",cx+barOff.ctrl-1).attr("x2",cx+barOff.adar+barW+1).attr("y1",450).attr("y2",450).attr("stroke","#222").attr("stroke-width",1.2);
 T((cx+barOff.ctrl-1+cx+barOff.adar+barW+1)/2,447,sigStars[i],{size:12,anchor:"middle",fill:"#555"});
});
const axDl=svg.append("g").attr("transform","translate(770,0)").call(d3.axisLeft(yD).tickValues([0,.5,1,1.5]).tickSize(7).tickSizeOuter(0).tickPadding(4).tickFormat(d3.format(".1f")));styleAxis(axDl,14,"#222","#111");axDl.selectAll("line,path").attr("stroke-width",1.3);
const axDb=svg.append("g").attr("transform","translate(0,580)").call(d3.axisBottom(xCat).tickSize(6).tickSizeOuter(0).tickPadding(7));styleAxis(axDb,17,"#222","#111");axDb.selectAll("line,path").attr("stroke-width",1.3);axDb.select(".domain").attr("d","M770,0H943");
svg.append("circle").attr("cx",843).attr("cy",393).attr("r",5).attr("fill","#0b9a4d");svg.append("circle").attr("cx",843).attr("cy",415).attr("r",5).attr("fill","#9c1c20");
T(859,394,"shCTRL",{size:15});T(859,419,"shADAR1",{size:15});
T(709,513,"Relative Expression",{size:17,anchor:"middle",rot:-90});T(728,507,"(normalized to shCTRL)",{size:16.5,anchor:"middle",rot:-90});

/* ---- E ---- */
const xE=d3.scaleLinear([0,100],[104,541]), yE=d3.scaleLinear([0,30],[1029,723]);
const ePts=editingRows.flatMap(r=>r[1].map(x=>[x,r[0]]));
svg.append("g").selectAll("circle").data(ePts).join("circle").attr("cx",d=>xE(d[0])).attr("cy",d=>yE(d[1])).attr("r",3.2).attr("fill","#8a8a8a").attr("opacity",.45);
svg.append("path").attr("d","M94,692V1031H553").attr("fill","none").attr("stroke","#888").attr("stroke-width",1.3);
const axEb=svg.append("g").attr("transform","translate(0,1031)").call(d3.axisBottom(xE).tickValues(editX).tickSize(0).tickPadding(9));axEb.select(".domain").remove();styleAxis(axEb,17,"#222");
const axEl=svg.append("g").attr("transform","translate(94,0)").call(d3.axisLeft(yE).tickValues(editY).tickSize(0).tickPadding(5));axEl.select(".domain").remove();styleAxis(axEl,18,"#222");
[["TFDP2",219,691,168,715,211,694],["MAVS",173.5,770,124,803,166,781],["MYB",194,806,215,809,205,868],["IL17RA",247,825,244,827,204,885],["EIF2AK2 (PKR)",254,899,273.6,907,274,940]].forEach(d=>{
 T(d[1],d[2],d[0],{size:20,italic:1});svg.append("line").attr("x1",d[3]).attr("y1",d[4]).attr("x2",d[5]).attr("y2",d[6]).attr("stroke","#111").attr("stroke-width",1.2);});
T(346,1084,"Differences in Editing %",{size:22,anchor:"middle"});
{const t=T(343,1108,"(shCTRL ",{size:22,anchor:"middle"});t.append("tspan").attr("font-style","italic").text("vs");t.append("tspan").text(" shADAR1)");}
T(62,866,"No. of Editing sites per transcript",{size:22,anchor:"middle",rot:-90});

/* ---- F ---- */
const exonBlue="#4cc3e6";
svg.append("rect").attr("x",673).attr("y",656).attr("width",19).attr("height",20).attr("fill",exonBlue).attr("stroke","#223").attr("stroke-width",1);
svg.append("rect").attr("x",673).attr("y",687).attr("width",19).attr("height",20).attr("fill","#fdf01c").attr("stroke","#223").attr("stroke-width",1);
T(699,673,"Exon",{size:21});T(698,705,"3'UTR",{size:21});
T(887,694,"shCTRL",{size:20,bold:1,anchor:"middle",fill:"#111"});T(1267,690,"shADAR1",{size:20,bold:1,anchor:"middle",fill:"#111"});
T(639,777,"MYB",{size:20,bold:1,fill:"#111"});T(639,908,"MAVS",{size:20,bold:1,fill:"#111"});T(638.5,1046,"IL17RA",{size:20,bold:1,fill:"#111"});
function track(c){
 const x=d3.scaleLinear([c.ticks[0],c.ticks[c.ticks.length-1]],c.range);
 const last=c.utr?c.utr[1]:c.exons[c.exons.length-1][0]+c.exons[c.exons.length-1][1];
 svg.append("line").attr("x1",x(c.exons[0][0])).attr("x2",x(last)).attr("y1",c.y).attr("y2",c.y).attr("stroke","#333").attr("stroke-width",1);
 if(c.utr)svg.append("rect").attr("x",x(c.utr[0])).attr("y",c.y-c.h).attr("width",x(c.utr[1])-x(c.utr[0])).attr("height",2*c.h).attr("fill","#fdf057").attr("stroke","#666").attr("stroke-width",1);
 c.exons.forEach(e=>{ if(e[1]===0) svg.append("line").attr("x1",x(e[0])).attr("x2",x(e[0])).attr("y1",c.y-c.h).attr("y2",c.y+c.h).attr("stroke","#111").attr("stroke-width",1.2);
  else {const w=x(e[0]+e[1])-x(e[0]);svg.append("rect").attr("x",x(e[0])).attr("y",c.y-c.h).attr("width",w).attr("height",2*c.h).attr("fill",w<2.5?"#1a8aa8":exonBlue).attr("stroke","#2a4a58").attr("stroke-width",.8);}});
 (c.groups||[]).forEach(g=>{
  const n=g.sites.length, cx=(i)=>g.center==null?x(g.sites[i]):g.center+(i-(n-1)/2)*g.step;
  const counts=d3.rollup(g.sites,v=>v.length,d=>d);
  counts.forEach((k,s)=>svg.append("line").attr("x1",x(s)).attr("x2",x(s)).attr("y1",c.cy+20).attr("y2",c.stemEnd).attr("stroke",k>1&&k<4?"#666":"#111").attr("stroke-width",k>1?1+k*.3:1));
  g.sites.forEach((s,i)=>{const px=cx(i);
   svg.append("path").attr("d",d3.line()([[px,c.cy],[px,c.cy+(c.e1||10)],[x(s),c.cy+20]])).attr("fill","none").attr("stroke","#333").attr("stroke-width",.9);});
  g.sites.forEach((s,i)=>svg.append("ellipse").attr("cx",cx(i)).attr("cy",c.cy).attr("rx",c.rx||5.4).attr("ry",5.7).attr("fill","#fff").attr("stroke","#111").attr("stroke-width",1));
 });
 const ax=svg.append("g").attr("transform",`translate(0,${c.axisY})`).call(d3.axisBottom(x).tickValues(c.ticks).tickSize(6).tickSizeOuter(0).tickPadding(c.pad||8).tickFormat(c.fmt||d3.format("d")));
 styleAxis(ax,c.fs||10.2,"#444","#444");ax.selectAll("path").attr("d",`M${c.range[0]},0H${c.range[1]}`);
}
const everyOther=d=>((d-135185000)%10000===0?d:"");
track({ticks:mybTicks,range:[749.3,1017.3],y:768,h:10,exons:mybExons,cy:731.7,stemEnd:768,axisY:781,fmt:everyOther,pad:9,
 groups:[{sites:mybCtrlSites,center:958,step:9.67},{sites:mybCtrlLone,center:1040,step:0}]});
track({ticks:mybTicks,range:[1137.7,1405],y:767.5,h:10,exons:mybExons,cy:730,stemEnd:767.5,axisY:779,fmt:everyOther,pad:9,
 groups:[{sites:mybAdarLone,center:null,step:0}]});
track({ticks:mavsTicks,range:[754.7,1038.3],y:899.3,h:10,exons:mavsExons,utr:mavsUtr,cy:862.3,stemEnd:899.3,axisY:917,
 groups:[{sites:mavsCtrlSites,center:989.3,step:9.5}]});
track({ticks:mavsTicks,range:[1141,1424.3],y:899.3,h:10,exons:mavsExons,utr:mavsUtr,cy:862.3,stemEnd:899.3,axisY:917,
 groups:[{sites:mavsAdarSites,center:1363.7,step:11.2},{sites:mavsAdarLone,center:null,step:0}]});
track({ticks:il17Ticks,range:[717,1037],y:1037,h:10,exons:il17Exons,utr:il17Utr,cy:1001,stemEnd:1047,e1:7,axisY:1049,rx:4.8,fs:9.7,
 groups:[{sites:il17CtrlSites,center:1019,step:9.7}]});
track({ticks:il17Ticks,range:[1108.3,1427.8],y:1033,h:10,exons:il17AdarExons,utr:il17AdarUtr,cy:998,stemEnd:1033,e1:7,axisY:1045.5,rx:4.8,fs:9.7,
 groups:[{sites:il17AdarSites,center:1410,step:11.2}]});
</script></body></html>
